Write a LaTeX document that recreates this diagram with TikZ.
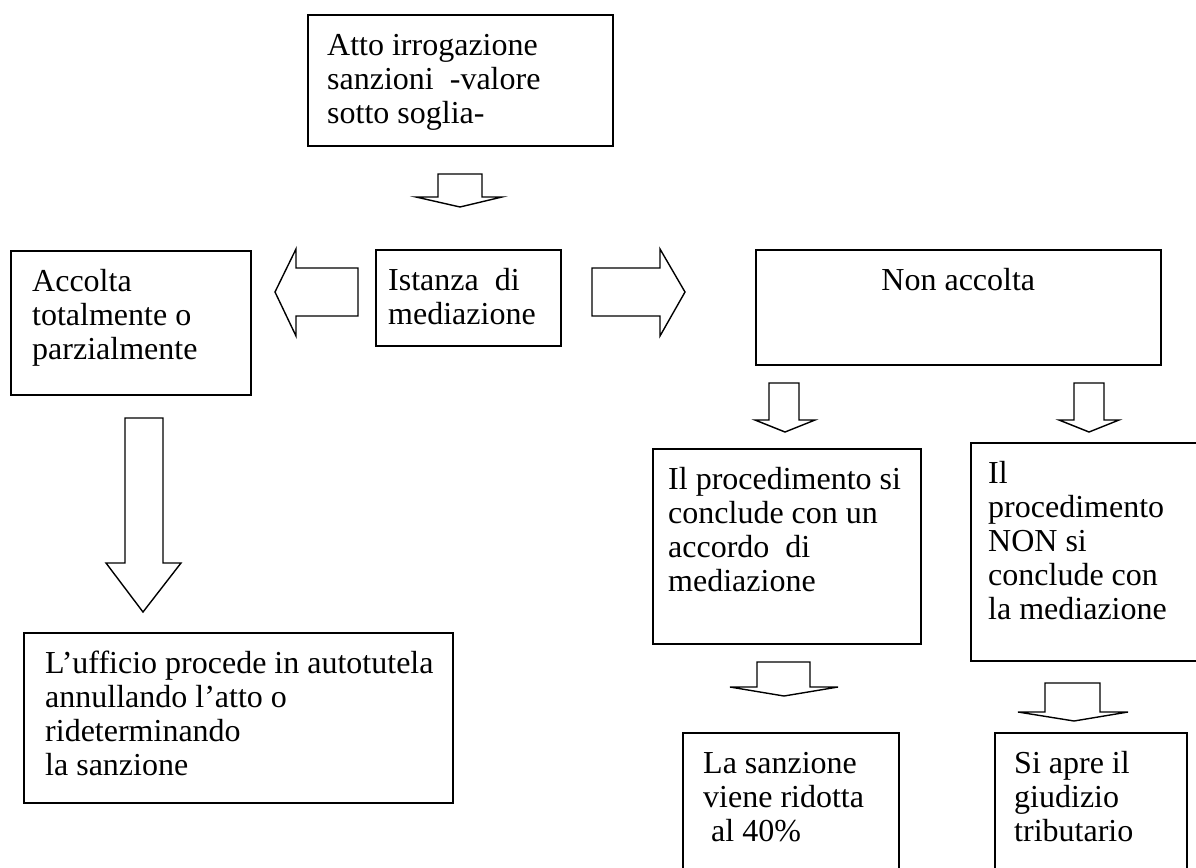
\documentclass[tikz,border=0pt]{standalone}
\usepackage{fontspec}
\setmainfont{Liberation Serif}
\newcommand\downblk[8]{\draw[blk] (#2,#1) -- (#3,#1) -- (#3,#4) -- (#6,#4) -- (#7,#8) -- (#5,#4) -- (#2,#4) -- cycle;}
\begin{document}
\begin{tikzpicture}[x=1pt,y=-1pt,
  box/.style={draw,line width=1.6pt,inner sep=0pt,anchor=north west},
  txt/.style={inner sep=0pt,anchor=north west,align=left,font=\fontsize{32}{34}\selectfont},
  blk/.style={draw,line width=1.4pt,line join=miter,fill=white}]
\useasboundingbox[fill=white] (0,0) rectangle (1196,867);

% boxes
\node[box,minimum width=305pt,minimum height=131pt] (atto) at (307,14) {};
\node[box,minimum width=240pt,minimum height=144pt] (accolta) at (10,250) {};
\node[box,minimum width=185pt,minimum height=96pt] (istanza) at (375,249) {};
\node[box,minimum width=405pt,minimum height=115pt] (nonacc) at (755,249) {};
\node[box,minimum width=268pt,minimum height=195pt] (procsi) at (652,448) {};
\node[box,minimum width=240pt,minimum height=218pt] (procnon) at (970,442) {};
\node[box,minimum width=429pt,minimum height=170pt] (ufficio) at (23,632) {};
\node[box,minimum width=216pt,minimum height=150pt] (sanz) at (682,732) {};
\node[box,minimum width=192pt,minimum height=150pt] (siapre) at (994,732) {};

% texts
\node[txt] (attot) at ([xshift=20pt,yshift=-17pt]atto.north west) {\strut Atto irrogazione\\sanzioni\ \ -valore\\sotto soglia-};
\node[txt] (accoltat) at ([xshift=22pt,yshift=-17pt]accolta.north west) {\strut Accolta\\totalmente o\\parzialmente};
\node[txt] (istanzat) at ([xshift=13pt,yshift=-17pt]istanza.north west) {\strut Istanza\ \ di\\mediazione};
\node[inner sep=0pt,anchor=base,font=\fontsize{32}{34}\selectfont] (nonacct) at ([yshift=-41pt]nonacc.north) {Non accolta};
\node[txt] (procsit) at ([xshift=16pt,yshift=-17pt]procsi.north west) {\strut Il procedimento si\\conclude con un\\accordo\ \ di\\mediazione};
\node[txt] (procnont) at ([xshift=18pt,yshift=-17pt]procnon.north west) {\strut Il\\procedimento\\NON si\\conclude con\\la mediazione};
\node[txt] (ufficiot) at ([xshift=22pt,yshift=-17pt]ufficio.north west) {\strut L’ufficio procede in autotutela\\annullando l’atto o\\rideterminando\\la sanzione};
\node[txt] (sanzt) at ([xshift=21pt,yshift=-17pt]sanz.north west) {\strut La sanzione\\viene ridotta\\\ al 40\%};
\node[txt] (siapret) at ([xshift=20pt,yshift=-17pt]siapre.north west) {\strut Si apre il\\giudizio\\tributario};

% block arrows
\downblk{174}{438}{482}{197}{416}{502}{460}{207}
\draw[blk] (275,292) -- (296,249) -- (296,268) -- (358,268) -- (358,316) -- (296,316) -- (296,336) -- cycle;
\draw[blk] (592,268) -- (660,268) -- (660,249) -- (685,292) -- (660,336) -- (660,316) -- (592,316) -- cycle;
\downblk{418}{125}{163}{563}{106}{181}{143}{612}
\downblk{383}{769}{799}{420}{755}{815}{785}{432}
\downblk{383}{1074}{1104}{420}{1059}{1119}{1089}{432}
\downblk{662}{757}{810}{687}{730}{838}{784}{696}
\downblk{683}{1045}{1100}{712}{1018}{1128}{1074}{721}
\end{tikzpicture}
\end{document}
